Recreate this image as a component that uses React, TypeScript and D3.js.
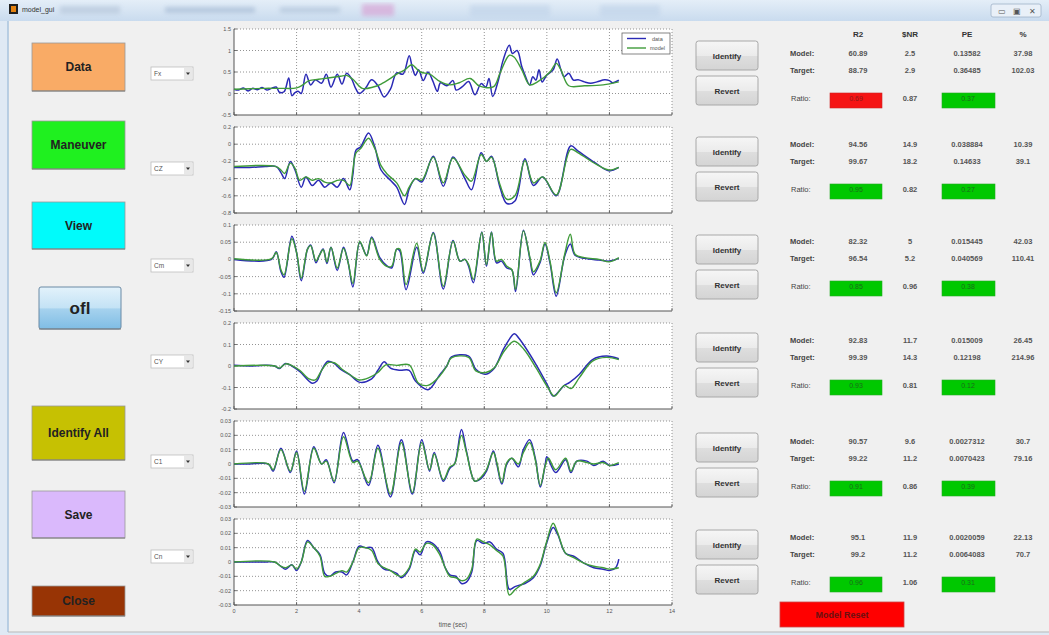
import React from 'react';
import * as d3 from 'd3';

type Pt = [number, number];

// ---------- data ----------
const timeTicks = [0, 2, 4, 6, 8, 10, 12, 14];
const channelNames = ['Fx', 'CZ', 'Cm', 'CY', 'C1', 'Cn'];

const yTicksFx = [-0.5, 0, 0.5, 1, 1.5];
const yTicksCZ = [-0.8, -0.6, -0.4, -0.2, 0, 0.2];
const yTicksCm = [-0.15, -0.1, -0.05, 0, 0.05, 0.1];
const yTicksCY = [-0.2, -0.1, 0, 0.1, 0.2];
const yTicksC1 = [-0.03, -0.02, -0.01, 0, 0.01, 0.02, 0.03];
const yTicksCn = [-0.03, -0.02, -0.01, 0, 0.01, 0.02, 0.03];

const fxData: Pt[] = [[0,0.1],[0.15,0.08],[0.3,0.13],[0.45,0.06],[0.6,0.12],[0.75,0.09],[0.9,0.14],[1.05,0.08],[1.2,0.12],[1.35,0.15],[1.45,0.03],[1.6,0.04],[1.75,0.36],[1.85,-0.05],[1.95,0.02],[2.05,0.05],[2.15,0.0],[2.3,0.45],[2.45,0.2],[2.6,0.32],[2.8,0.24],[2.95,0.45],[3.1,0.15],[3.3,0.45],[3.45,0.22],[3.6,0.47],[3.75,0.35],[3.9,0.1],[4.0,0.0],[4.2,0.12],[4.4,0.32],[4.6,0.18],[4.8,-0.08],[5.0,0.1],[5.2,0.48],[5.4,0.45],[5.6,0.88],[5.7,0.6],[5.8,0.42],[5.9,0.55],[6.05,0.3],[6.2,0.5],[6.35,0.3],[6.5,0.05],[6.6,0.25],[6.8,0.18],[7.0,0.3],[7.1,0.08],[7.3,0.16],[7.5,0.28],[7.7,-0.03],[7.9,0.23],[8.05,0.15],[8.15,0.35],[8.27,-0.07],[8.45,0.31],[8.6,0.77],[8.8,1.12],[8.9,0.93],[9.05,1.0],[9.2,0.62],[9.3,0.43],[9.45,0.2],[9.55,0.39],[9.65,0.31],[9.75,0.55],[9.85,0.27],[10.0,0.43],[10.2,0.55],[10.33,0.8],[10.45,0.55],[10.55,0.39],[10.7,0.47],[10.85,0.31],[11.0,0.32],[11.2,0.27],[11.4,0.24],[11.6,0.27],[11.85,0.32],[12.0,0.3],[12.1,0.25],[12.3,0.31]];
const fxModel: Pt[] = [[0,0.1],[0.5,0.11],[1,0.12],[1.5,0.12],[2,0.13],[2.2,0.2],[2.4,0.3],[2.7,0.33],[3.0,0.36],[3.4,0.4],[3.6,0.42],[3.8,0.33],[4.1,0.12],[4.45,0.15],[4.7,0.22],[5.0,0.35],[5.2,0.45],[5.46,0.55],[5.68,0.67],[5.95,0.5],[6.26,0.45],[6.58,0.28],[6.9,0.2],[7.2,0.25],[7.55,0.35],[7.85,0.17],[8.3,0.16],[8.5,0.47],[8.8,0.89],[8.95,0.85],[9.2,0.55],[9.45,0.2],[9.7,0.27],[10.1,0.5],[10.3,0.7],[10.45,0.55],[10.7,0.18],[11.2,0.18],[11.8,0.2],[12.3,0.27]];

const czData: Pt[] = [[0,-0.27],[0.5,-0.27],[1.0,-0.26],[1.35,-0.26],[1.5,-0.33],[1.62,-0.4],[1.8,-0.2],[1.95,-0.3],[2.15,-0.5],[2.3,-0.38],[2.5,-0.48],[2.7,-0.42],[2.9,-0.5],[3.1,-0.45],[3.3,-0.5],[3.5,-0.4],[3.7,-0.53],[3.8,-0.35],[3.9,-0.07],[4.05,-0.03],[4.3,0.13],[4.5,-0.03],[4.7,-0.3],[5.0,-0.42],[5.2,-0.5],[5.45,-0.7],[5.6,-0.52],[5.8,-0.4],[6.0,-0.44],[6.37,-0.14],[6.69,-0.49],[7.0,-0.15],[7.38,-0.4],[7.59,-0.53],[7.9,-0.1],[8.07,-0.2],[8.23,-0.14],[8.5,-0.5],[8.72,-0.69],[8.98,-0.66],[9.3,-0.17],[9.57,-0.48],[9.87,-0.38],[10.3,-0.6],[10.76,-0.02],[11.0,-0.08],[11.56,-0.22],[11.98,-0.31],[12.3,-0.27]];
const czModel: Pt[] = [[0,-0.26],[1.35,-0.26],[1.5,-0.3],[1.62,-0.34],[1.8,-0.22],[1.95,-0.28],[2.1,-0.42],[2.3,-0.38],[2.5,-0.42],[2.7,-0.4],[2.9,-0.44],[3.1,-0.45],[3.3,-0.42],[3.5,-0.42],[3.7,-0.48],[3.8,-0.3],[3.9,-0.1],[4.05,-0.05],[4.3,0.07],[4.5,-0.05],[4.7,-0.25],[4.9,-0.35],[5.2,-0.45],[5.45,-0.6],[5.6,-0.5],[5.8,-0.4],[6.0,-0.42],[6.37,-0.15],[6.69,-0.45],[7.0,-0.16],[7.38,-0.36],[7.59,-0.43],[7.9,-0.12],[8.07,-0.2],[8.23,-0.15],[8.5,-0.47],[8.72,-0.64],[8.98,-0.6],[9.3,-0.19],[9.57,-0.45],[9.87,-0.38],[10.3,-0.59],[10.76,-0.06],[11.0,-0.1],[11.56,-0.23],[11.98,-0.3],[12.3,-0.27]];

const cmData: Pt[] = [[0,0.0],[1.2,0.0],[1.35,0.022],[1.5,-0.035],[1.6,-0.052],[1.85,0.067],[2.0,0.02],[2.15,-0.062],[2.35,0.03],[2.45,0.042],[2.62,-0.01],[2.72,0.01],[2.85,0.03],[2.97,-0.012],[3.1,0.035],[3.3,-0.032],[3.5,0.035],[3.65,-0.01],[3.8,-0.08],[4.02,0.05],[4.24,0.012],[4.4,0.065],[4.66,0.005],[4.88,-0.018],[5.04,-0.025],[5.2,0.03],[5.3,0.025],[5.5,-0.088],[5.84,0.035],[6.05,-0.04],[6.37,0.078],[6.69,-0.086],[7.0,0.055],[7.22,-0.005],[7.38,0.0],[7.5,-0.02],[7.65,-0.068],[7.92,0.08],[8.07,-0.02],[8.23,0.08],[8.39,-0.01],[8.55,-0.005],[8.72,-0.025],[8.88,-0.03],[9.0,-0.093],[9.25,0.085],[9.46,0.0],[9.57,-0.045],[9.78,-0.01],[9.94,0.045],[10.1,-0.01],[10.3,-0.107],[10.57,0.01],[10.75,0.045],[10.9,0.012],[11.2,0.003],[11.67,-0.002],[12.0,-0.005],[12.3,0.003]];
const cmModel: Pt[] = [[0,0.002],[1.2,0.002],[1.35,0.02],[1.5,-0.03],[1.6,-0.045],[1.85,0.06],[2.0,0.02],[2.15,-0.055],[2.35,0.03],[2.45,0.04],[2.62,-0.005],[2.72,0.01],[2.85,0.028],[2.97,-0.008],[3.1,0.035],[3.3,-0.025],[3.5,0.032],[3.65,-0.01],[3.8,-0.07],[4.02,0.052],[4.24,0.01],[4.4,0.062],[4.66,0.0],[4.88,-0.02],[5.04,-0.02],[5.2,0.03],[5.3,0.03],[5.5,-0.073],[5.84,0.047],[6.05,-0.035],[6.37,0.076],[6.69,-0.078],[7.0,0.053],[7.22,-0.005],[7.38,0.0],[7.5,-0.015],[7.65,-0.058],[7.92,0.078],[8.07,-0.015],[8.23,0.078],[8.39,-0.005],[8.55,0.0],[8.72,-0.02],[8.88,-0.03],[9.0,-0.087],[9.25,0.083],[9.46,0.005],[9.57,-0.036],[9.78,-0.005],[9.94,0.049],[10.1,-0.005],[10.3,-0.097],[10.57,0.015],[10.75,0.073],[10.9,0.015],[11.2,0.005],[11.67,0.0],[12.0,-0.007],[12.3,0.005]];

const cyData: Pt[] = [[0,0.003],[0.5,0.0],[1.0,0.003],[1.3,0.0],[1.45,-0.012],[1.65,0.012],[1.85,0.0],[2.1,-0.025],[2.5,-0.08],[2.65,-0.07],[2.8,-0.02],[3.0,0.022],[3.2,0.012],[3.4,-0.015],[3.7,-0.04],[4.0,-0.075],[4.4,-0.06],[4.6,-0.02],[4.8,0.02],[5.0,-0.01],[5.3,-0.02],[5.6,-0.02],[5.8,-0.07],[6.2,-0.11],[6.58,-0.04],[6.8,0.0],[6.95,0.042],[7.5,0.046],[7.73,-0.015],[8.05,-0.038],[8.32,-0.01],[8.64,0.085],[8.96,0.15],[9.1,0.13],[9.65,0.008],[10.03,-0.092],[10.2,-0.14],[10.56,-0.09],[10.72,-0.077],[11.04,-0.038],[11.46,0.03],[11.9,0.046],[12.3,0.034]];
const cyModel: Pt[] = [[0,0.0],[1.3,0.0],[1.45,-0.01],[1.65,0.01],[1.85,0.002],[2.1,-0.02],[2.4,-0.06],[2.6,-0.065],[2.8,-0.02],[3.0,0.015],[3.2,0.015],[3.5,-0.02],[3.8,-0.05],[4.0,-0.065],[4.3,-0.055],[4.6,-0.03],[4.85,0.005],[5.2,0.003],[5.6,0.005],[5.9,-0.08],[6.2,-0.09],[6.58,-0.046],[6.8,0.0],[6.95,0.038],[7.5,0.04],[7.73,-0.023],[8.05,-0.03],[8.32,-0.008],[8.64,0.07],[8.96,0.115],[9.27,0.077],[9.65,-0.008],[10.03,-0.1],[10.24,-0.14],[10.56,-0.09],[10.77,-0.105],[11.04,-0.054],[11.46,0.023],[11.9,0.04],[12.3,0.03]];

const c1Data: Pt[] = [[0,0.0],[0.5,0.0],[1.1,0.0],[1.25,-0.005],[1.5,0.011],[1.8,-0.006],[2.0,0.009],[2.25,-0.021],[2.55,0.012],[2.8,0.0],[2.95,0.003],[3.2,-0.013],[3.5,0.022],[3.8,0.002],[3.95,0.003],[4.3,-0.015],[4.6,0.013],[5.0,-0.023],[5.35,0.017],[5.7,-0.021],[6.0,0.017],[6.25,-0.005],[6.4,0.008],[6.69,-0.012],[6.9,-0.003],[7.05,0.0],[7.27,0.024],[7.43,0.009],[7.7,-0.012],[7.9,-0.01],[8.07,-0.005],[8.29,0.009],[8.4,0.0],[8.56,-0.014],[8.72,0.0],[8.88,0.004],[9.09,-0.002],[9.25,0.01],[9.45,0.017],[9.63,0.004],[9.79,-0.016],[9.95,0.0],[10.0,0.005],[10.28,-0.006],[10.6,0.003],[10.77,-0.006],[10.96,0.002],[11.28,0.002],[11.5,-0.001],[11.8,0.002],[12.0,-0.001],[12.3,0.0]];
const c1Model: Pt[] = [[0,0.0],[1.1,0.0],[1.25,-0.004],[1.5,0.01],[1.8,-0.005],[2.0,0.008],[2.25,-0.019],[2.55,0.011],[2.8,0.0],[2.95,0.002],[3.2,-0.012],[3.5,0.019],[3.8,0.001],[3.95,0.002],[4.3,-0.013],[4.6,0.011],[5.0,-0.021],[5.35,0.015],[5.7,-0.02],[6.0,0.015],[6.25,-0.004],[6.4,0.007],[6.69,-0.011],[6.9,-0.002],[7.05,0.0],[7.27,0.02],[7.43,0.008],[7.7,-0.012],[7.9,-0.009],[8.07,-0.004],[8.29,0.008],[8.4,0.001],[8.56,-0.013],[8.72,0.001],[8.88,0.004],[9.09,0.0],[9.25,0.008],[9.45,0.015],[9.63,0.003],[9.79,-0.015],[9.95,-0.001],[10.05,0.004],[10.28,-0.004],[10.6,0.004],[10.77,-0.005],[10.96,0.002],[11.28,0.001],[11.5,0.0],[11.8,0.001],[12.0,-0.001],[12.3,0.001]];

const cnData: Pt[] = [[0,0.0],[0.5,0.0],[1.0,0.0],[1.3,0.0],[1.5,-0.003],[1.65,-0.005],[1.85,-0.002],[2.0,-0.006],[2.15,0.0],[2.35,0.015],[2.55,0.01],[2.75,0.005],[2.9,-0.008],[3.05,-0.01],[3.25,-0.007],[3.45,-0.007],[3.6,-0.009],[3.8,0.0],[4.0,0.011],[4.2,0.01],[4.4,0.01],[4.6,0.0],[4.8,-0.005],[5.0,-0.006],[5.2,-0.008],[5.35,-0.011],[5.6,-0.005],[5.8,0.008],[5.95,0.005],[6.15,0.014],[6.35,0.013],[6.58,0.007],[6.75,-0.004],[6.9,-0.009],[7.1,-0.01],[7.27,-0.015],[7.43,-0.014],[7.6,-0.007],[7.76,0.015],[7.97,0.013],[8.18,0.014],[8.39,0.009],[8.6,0.006],[8.8,-0.019],[9.0,-0.017],[9.3,-0.015],[9.57,-0.011],[9.78,-0.003],[9.99,0.013],[10.2,0.024],[10.35,0.019],[10.6,0.006],[10.86,0.004],[11.2,-0.001],[11.5,-0.004],[11.8,-0.005],[12.0,-0.006],[12.2,-0.004],[12.3,0.002]];
const cnModel: Pt[] = [[0,0],[1.3,0],[1.5,-0.003],[1.65,-0.004],[1.85,-0.002],[2.0,-0.005],[2.15,0.0],[2.35,0.014],[2.55,0.01],[2.75,0.004],[2.9,-0.01],[3.05,-0.01],[3.25,-0.008],[3.45,-0.006],[3.6,-0.007],[3.8,0.0],[4.0,0.01],[4.2,0.01],[4.4,0.008],[4.6,-0.001],[4.8,-0.004],[5.0,-0.006],[5.2,-0.009],[5.35,-0.01],[5.6,-0.004],[5.8,0.009],[5.95,0.007],[6.15,0.013],[6.35,0.012],[6.58,0.005],[6.75,-0.004],[6.9,-0.01],[7.1,-0.011],[7.27,-0.013],[7.43,-0.012],[7.6,-0.005],[7.76,0.016],[7.97,0.014],[8.18,0.012],[8.39,0.008],[8.6,0.004],[8.8,-0.023],[9.0,-0.019],[9.3,-0.014],[9.57,-0.01],[9.78,-0.002],[9.99,0.014],[10.2,0.027],[10.35,0.02],[10.6,0.006],[10.86,0.003],[11.2,-0.001],[11.5,-0.003],[11.8,-0.004],[12.0,-0.005],[12.3,-0.004]];

// table
const tableHeaders = ['R2', '$NR', 'PE', '%'];
const modelRows = [
  ['60.89', '2.5', '0.13582', '37.98'],
  ['94.56', '14.9', '0.038884', '10.39'],
  ['82.32', '5', '0.015445', '42.03'],
  ['92.83', '11.7', '0.015009', '26.45'],
  ['90.57', '9.6', '0.0027312', '30.7'],
  ['95.1', '11.9', '0.0020059', '22.13'],
];
const targetRows = [
  ['88.79', '2.9', '0.36485', '102.03'],
  ['99.67', '18.2', '0.14633', '39.1'],
  ['96.54', '5.2', '0.040569', '110.41'],
  ['99.39', '14.3', '0.12198', '214.96'],
  ['99.22', '11.2', '0.0070423', '79.16'],
  ['99.2', '11.2', '0.0064083', '70.7'],
];
const ratioR2 = ['0.69', '0.95', '0.85', '0.93', '0.91', '0.96'];
const ratioSNR = ['0.87', '0.82', '0.96', '0.81', '0.86', '1.06'];
const ratioPE = ['0.37', '0.27', '0.38', '0.12', '0.39', '0.31'];
const ratioR2Pass = [false, true, true, true, true, true];

const leftButtons = ['Data', 'Maneuver', 'View', 'ofl', 'Identify All', 'Save', 'Close'];

// ---------- layout ----------
const W = 1049, H = 635;
const FONT = '"Liberation Sans", Arial, sans-serif';
const BLUE = '#2a2ab5';
const GREEN = '#3f9b3a';
const plotLeft = 234, plotRight = 672, plotH = 86;
const plotTops = [29, 127, 225, 323, 421, 519];
const dropTops = [67, 162, 259, 355, 455, 550];
const identTops = [41, 137, 235, 333, 433, 530];
const modelYs = [53, 144, 241, 340, 441, 537];
const colX = [858, 910, 967, 1023];

const series = [
  { ticks: yTicksFx, data: fxData, model: fxModel },
  { ticks: yTicksCZ, data: czData, model: czModel },
  { ticks: yTicksCm, data: cmData, model: cmModel },
  { ticks: yTicksCY, data: cyData, model: cyModel },
  { ticks: yTicksC1, data: c1Data, model: c1Model },
  { ticks: yTicksCn, data: cnData, model: cnModel },
];

const leftBtnStyle = [
  { x: 32, y: 43, w: 93, h: 48, fill: '#f9ab66', size: 12 },
  { x: 32, y: 121, w: 93, h: 48, fill: '#1ff01f', size: 12 },
  { x: 32, y: 202, w: 93, h: 47, fill: '#00fbfb', size: 12 },
  { x: 39, y: 287, w: 82, h: 42, fill: 'url(#oflGrad)', size: 17 },
  { x: 32, y: 406, w: 93, h: 54, fill: '#c6c102', size: 12 },
  { x: 32, y: 491, w: 93, h: 47, fill: '#dab9fc', size: 12 },
  { x: 32, y: 586, w: 93, h: 30, fill: '#983405', size: 12 },
];

function Panel({ idx }: { idx: number }) {
  const s = series[idx];
  const top = plotTops[idx];
  const bottom = top + plotH;
  const x = d3.scaleLinear().domain([0, 14]).range([plotLeft, plotRight]);
  const y = d3.scaleLinear().domain([s.ticks[0], s.ticks[s.ticks.length - 1]]).range([bottom, top]);
  const line = d3.line<Pt>().x(d => x(d[0])).y(d => y(d[1])).curve(d3.curveCatmullRom.alpha(0.5));
  const isLast = idx === series.length - 1;
  return (
    <g>
      <rect x={plotLeft} y={top} width={plotRight - plotLeft} height={plotH} fill="#fff" />
      {timeTicks.slice(1).map(t => (
        <line key={'gx' + t} x1={x(t)} x2={x(t)} y1={top} y2={bottom} stroke="#777" strokeWidth={0.8} strokeDasharray="1,2" />
      ))}
      {s.ticks.slice(1).map(v => (
        <line key={'gy' + v} x1={plotLeft} x2={plotRight} y1={y(v)} y2={y(v)} stroke="#777" strokeWidth={0.8} strokeDasharray="1,2" />
      ))}
      <line x1={plotLeft} x2={plotLeft} y1={top} y2={bottom} stroke="#555" strokeWidth={1} />
      <line x1={plotLeft} x2={plotRight} y1={bottom} y2={bottom} stroke="#555" strokeWidth={1} />
      {s.ticks.map(v => (
        <g key={'ty' + v}>
          <line x1={plotLeft} x2={plotLeft + 3} y1={y(v)} y2={y(v)} stroke="#555" strokeWidth={0.8} />
          <text x={plotLeft - 3} y={y(v) + 2} textAnchor="end" fontSize={5.5} fill="#555" fontFamily={FONT}>{String(v)}</text>
        </g>
      ))}
      {timeTicks.map(t => (
        <line key={'tx' + t} x1={x(t)} x2={x(t)} y1={bottom} y2={bottom - 3} stroke="#555" strokeWidth={0.8} />
      ))}
      {isLast && timeTicks.map(t => (
        <text key={'lx' + t} x={x(t)} y={bottom + 8} textAnchor="middle" fontSize={5.5} fill="#555" fontFamily={FONT}>{String(t)}</text>
      ))}
      {isLast && (
        <text x={(plotLeft + plotRight) / 2} y={bottom + 22} textAnchor="middle" fontSize={6.5} fill="#555" fontFamily={FONT}>time (sec)</text>
      )}
      <path d={line(s.data) || ''} fill="none" stroke={BLUE} strokeWidth={1.5} />
      <path d={line(s.model) || ''} fill="none" stroke={GREEN} strokeWidth={1.4} />
      {idx === 0 && (
        <g>
          <rect x={622} y={33} width={48} height={21} fill="#fff" stroke="#666" strokeWidth={0.8} />
          <line x1={627} x2={646} y1={38.5} y2={38.5} stroke={BLUE} strokeWidth={1.4} />
          <text x={652} y={40.5} fontSize={5.5} fill="#555" fontFamily={FONT}>data</text>
          <line x1={627} x2={646} y1={48} y2={48} stroke={GREEN} strokeWidth={1.4} />
          <text x={650} y={50} fontSize={5.5} fill="#555" fontFamily={FONT}>model</text>
        </g>
      )}
    </g>
  );
}

function GrayButton({ x, y, w, h, label }: { x: number; y: number; w: number; h: number; label: string }) {
  return (
    <g>
      <rect x={x} y={y} width={w} height={h} rx={2.5} fill="url(#grayGrad)" stroke="#a8a8a8" strokeWidth={1} />
      <text x={x + w / 2} y={y + h / 2 + 3} textAnchor="middle" fontSize={8} fontWeight="bold" fill="#333" fontFamily={FONT}>{label}</text>
    </g>
  );
}

export default function App() {
  return (
    <svg width={W} height={H} viewBox={`0 0 ${W} ${H}`} style={{ position: 'absolute', left: 0, top: 0, display: 'block' }}>
      <defs>
        <linearGradient id="titleGrad" x1="0" y1="0" x2="0" y2="1">
          <stop offset="0" stopColor="#e4eef8" />
          <stop offset="1" stopColor="#c9dbee" />
        </linearGradient>
        <linearGradient id="grayGrad" x1="0" y1="0" x2="0" y2="1">
          <stop offset="0" stopColor="#f6f6f6" />
          <stop offset="0.5" stopColor="#ebebeb" />
          <stop offset="0.52" stopColor="#dedede" />
          <stop offset="1" stopColor="#d4d4d4" />
        </linearGradient>
        <linearGradient id="oflGrad" x1="0" y1="0" x2="0" y2="1">
          <stop offset="0" stopColor="#e3f2fb" />
          <stop offset="0.5" stopColor="#c3e2f5" />
          <stop offset="0.52" stopColor="#a6d2ee" />
          <stop offset="1" stopColor="#7fbde4" />
        </linearGradient>
        <filter id="blur"><feGaussianBlur stdDeviation="2" /></filter>
      </defs>
      {/* window chrome */}
      <rect x={0} y={0} width={W} height={H} fill="#dfe9f4" />
      <rect x={0} y={0} width={W} height={21} fill="url(#titleGrad)" />
      <g filter="url(#blur)" opacity={0.7}>
        <rect x={60} y={6} width={60} height={8} fill="#b8c8dc" />
        <rect x={165} y={7} width={90} height={6} fill="#a9bdd6" />
        <rect x={280} y={7} width={60} height={6} fill="#b3c6dc" />
        <rect x={362} y={4} width={32} height={12} fill="#d7a6d6" />
        <rect x={470} y={5} width={80} height={12} fill="#c3d5ea" />
        <rect x={600} y={5} width={60} height={12} fill="#c3d5ea" />
      </g>
      <rect x={9} y={4} width={9} height={10} fill="#202020" />
      <rect x={11} y={6} width={5} height={6} fill="#e5820f" />
      <text x={22} y={12} fontSize={7} fill="#333" fontFamily={FONT}>model_gui</text>
      <rect x={991} y={4} width={50} height={13} rx={2} fill="#e9f0f8" stroke="#9fb2c8" strokeWidth={0.8} />
      <text x={998} y={14} fontSize={8} fill="#555" fontFamily={FONT}>▭</text>
      <text x={1013} y={14} fontSize={8} fill="#555" fontFamily={FONT}>▣</text>
      <text x={1029} y={14} fontSize={8} fill="#555" fontFamily={FONT}>✕</text>
      {/* client area */}
      <rect x={8} y={21} width={W - 8} height={611} fill="#f0f0f0" />
      <line x1={8} x2={8} y1={21} y2={632} stroke="#a9c3de" strokeWidth={1.5} />
      <line x1={8} x2={W} y1={632} y2={632} stroke="#b9b9b9" strokeWidth={1} />

      {/* left buttons */}
      {leftButtons.map((label, i) => {
        const b = leftBtnStyle[i];
        return (
          <g key={label}>
            <rect x={b.x} y={b.y} width={b.w} height={b.h} fill={b.fill} stroke={i === 3 ? '#6b8aa5' : '#9a9a9a'} strokeWidth={i === 3 ? 1 : 0.8} rx={i === 3 ? 2 : 0} />
            <line x1={b.x} x2={b.x + b.w} y1={b.y + b.h} y2={b.y + b.h} stroke="#7a7a7a" strokeWidth={1} />
            <text x={b.x + b.w / 2} y={b.y + b.h / 2 + b.size * 0.36} textAnchor="middle" fontSize={b.size} fontWeight="bold" fill="#222" fontFamily={FONT}>{label}</text>
          </g>
        );
      })}

      {/* dropdowns */}
      {channelNames.map((name, i) => (
        <g key={name}>
          <rect x={151} y={dropTops[i]} width={42} height={13} fill="#fff" stroke="#bdbdbd" strokeWidth={0.8} />
          <rect x={184} y={dropTops[i] + 1} width={8} height={11} fill="#e8e8e8" />
          <path d={`M186,${dropTops[i] + 5.5} L190,${dropTops[i] + 5.5} L188,${dropTops[i] + 8} Z`} fill="#333" />
          <text x={154} y={dropTops[i] + 9} fontSize={6.5} fill="#555" fontFamily={FONT}>{name}</text>
        </g>
      ))}

      {/* plots */}
      {series.map((_, i) => <Panel key={i} idx={i} />)}

      {/* right panel */}
      {tableHeaders.map((h, c) => (
        <text key={h} x={colX[c]} y={37} textAnchor="middle" fontSize={8} fontWeight="bold" fill="#333" fontFamily={FONT}>{h}</text>
      ))}
      {identTops.map((top, g) => {
        const my = modelYs[g];
        const ty = my + 17;
        const ry = my + 45;
        return (
          <g key={'grp' + g}>
            <GrayButton x={696} y={top} w={62} h={29} label="Identify" />
            <GrayButton x={696} y={top + 35} w={62} h={29} label="Revert" />
            <text x={790} y={my + 3} fontSize={7.5} fontWeight="bold" fill="#444" fontFamily={FONT}>Model:</text>
            <text x={790} y={ty + 3} fontSize={7.5} fontWeight="bold" fill="#444" fontFamily={FONT}>Target:</text>
            <text x={791} y={ry + 3} fontSize={7.5} fill="#444" fontFamily={FONT}>Ratio:</text>
            {modelRows[g].map((v, c) => (
              <text key={'m' + c} x={colX[c]} y={my + 3} textAnchor="middle" fontSize={7.5} fontWeight="bold" fill="#555" fontFamily={FONT}>{v}</text>
            ))}
            {targetRows[g].map((v, c) => (
              <text key={'t' + c} x={colX[c]} y={ty + 3} textAnchor="middle" fontSize={7.5} fontWeight="bold" fill="#555" fontFamily={FONT}>{v}</text>
            ))}
            <rect x={830} y={ry - 5} width={52} height={15} fill={ratioR2Pass[g] ? '#00c800' : '#f51414'} stroke={ratioR2Pass[g] ? '#22aa22' : '#cc2222'} strokeWidth={0.6} />
            <text x={856} y={ry + 3} textAnchor="middle" fontSize={7} fill={ratioR2Pass[g] ? '#1b6b1b' : '#8c1a1a'} fontFamily={FONT}>{ratioR2[g]}</text>
            <text x={colX[1]} y={ry + 3} textAnchor="middle" fontSize={7.5} fontWeight="bold" fill="#555" fontFamily={FONT}>{ratioSNR[g]}</text>
            <rect x={942} y={ry - 5} width={53} height={15} fill="#00c800" stroke="#22aa22" strokeWidth={0.6} />
            <text x={968} y={ry + 3} textAnchor="middle" fontSize={7} fill="#1b6b1b" fontFamily={FONT}>{ratioPE[g]}</text>
          </g>
        );
      })}
      <rect x={780} y={602} width={124} height={25} fill="#ff0000" stroke="#c44" strokeWidth={0.8} />
      <text x={842} y={618} textAnchor="middle" fontSize={9} fontWeight="bold" fill="#6b1010" fontFamily={FONT}>Model Reset</text>
    </svg>
  );
}
